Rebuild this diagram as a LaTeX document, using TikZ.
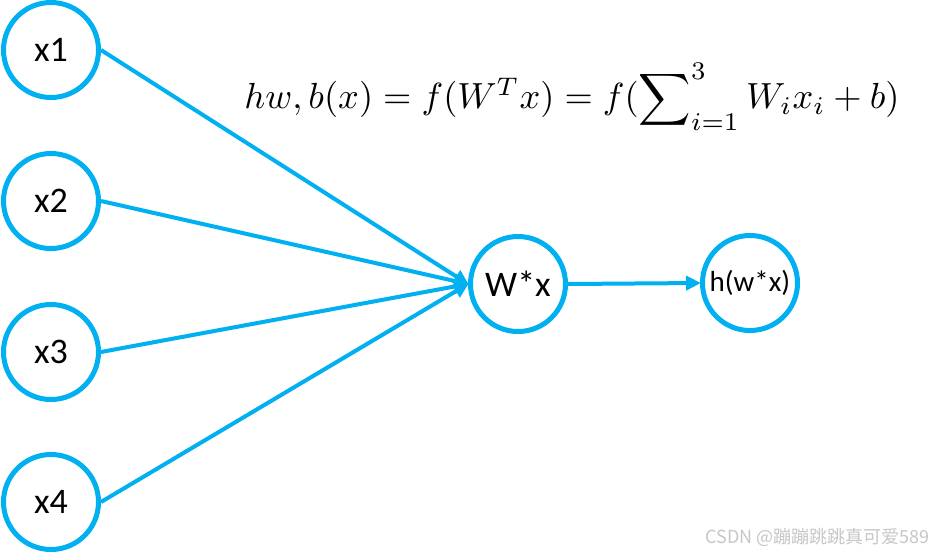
\documentclass[tikz,border=0pt]{standalone}
\usepackage{fontspec}
\setmainfont{Carlito}
\newfontfamily\cjk{Noto Sans CJK SC}
\usepackage{graphicx}
\usetikzlibrary{arrows.meta}
\definecolor{nblue}{HTML}{00B0F0}
\begin{document}
\begin{tikzpicture}[x=1pt,y=-1pt,
  neuron/.style={circle, draw=nblue, line width=5pt, minimum size=95pt, inner sep=0pt, font=\fontsize{36}{38}\selectfont},
  link/.style={draw=nblue, line width=4pt, -{Triangle[length=15pt,width=14pt]}, shorten >=-1pt}]
\useasboundingbox[fill=white] (0,0) rectangle (933,552);
\node[neuron] (x1) at (51,50) {x1};
\node[neuron] (x2) at (51,201) {x2};
\node[neuron] (x3) at (51,352) {x3};
\node[neuron] (x4) at (51,502) {x4};
\node[neuron] (w) at (518,284) {W*x};
\node[neuron, font=\fontsize{29}{31}\selectfont] (h) at (750,283) {h(w*x)};
\draw[link] (x1.east) -- (w.west);
\draw[link] (x2.east) -- (w.west);
\draw[link] (x3.east) -- (w.west);
\draw[link] (x4.east) -- (w.west);
\draw[link] (w.east) -- (h.west);
\node (f) at (572,97) {\resizebox{655pt}{!}{$hw,b(x)=f(W^Tx)=f(\displaystyle\sum\nolimits_{i=1}^{3}W_ix_i+b)$}};
\node[anchor=east, text=black!22, font=\cjk\fontsize{18}{20}\selectfont, inner sep=0pt] (wm) at (930,537) {CSDN @蹦蹦跳跳真可爱589};
\end{tikzpicture}
\end{document}
